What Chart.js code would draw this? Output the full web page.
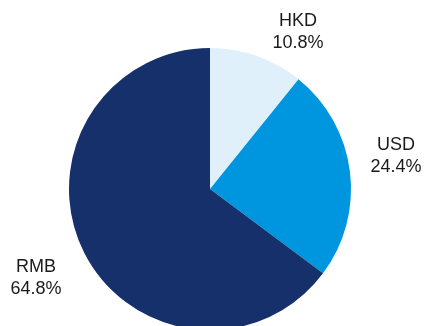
<!DOCTYPE html>
<html>
<head>
<meta charset="utf-8">
<script src="https://cdn.jsdelivr.net/npm/chart.js@4"></script>
<style>
  html, body { margin: 0; padding: 0; background: #fff; overflow: hidden; }
  #wrap { width: 425px; height: 340px; position: relative; }
</style>
</head>
<body>
<div id="wrap"><canvas id="currencyChart"></canvas></div>
<script>
// Currency mix (% of total)
const currencies = ['HKD', 'USD', 'RMB'];
const shares = [10.8, 24.4, 64.8];
const sliceColors = ['#dff0fb', '#0095df', '#15306a'];

// Where each caption sits relative to the pie centre
const labelOffsets = [
    { dx: 88, dy: -157 },
    { dx: 186, dy: -33 },
    { dx: -174, dy: 89 }
];

// Draws "NAME / xx.x%" captions outside each slice
const outsideLabels = {
    id: 'outsideLabels',
    afterDraw(chart) {
        const ctx = chart.ctx;
        const arcs = chart.getDatasetMeta(0).data;
        ctx.save();
        ctx.font = '18px "Liberation Sans", Arial, sans-serif';
        ctx.fillStyle = '#1a1a1a';
        ctx.textAlign = 'center';
        ctx.textBaseline = 'middle';
        arcs.forEach((arc, i) => {
            const off = labelOffsets[i];
            const x = arc.x + off.dx;
            const y = arc.y + off.dy;
            ctx.fillText(chart.data.labels[i], x, y - 11);
            ctx.fillText(chart.data.datasets[0].data[i].toFixed(1) + '%', x, y + 11);
        });
        ctx.restore();
    }
};

const ctx = document.getElementById('currencyChart').getContext('2d');
const currencyChart = new Chart(ctx, {
    type: 'pie',
    data: {
        labels: currencies,
        datasets: [{
            data: shares,
            backgroundColor: sliceColors,
            borderWidth: 0
        }]
    },
    options: {
        responsive: true,
        maintainAspectRatio: false,
        animation: false,
        layout: {
            padding: { left: 69, right: 74, top: 48, bottom: 10 }
        },
        plugins: {
            legend: { display: false },
            tooltip: { enabled: false }
        }
    },
    plugins: [outsideLabels]
});
</script>
</body>
</html>
